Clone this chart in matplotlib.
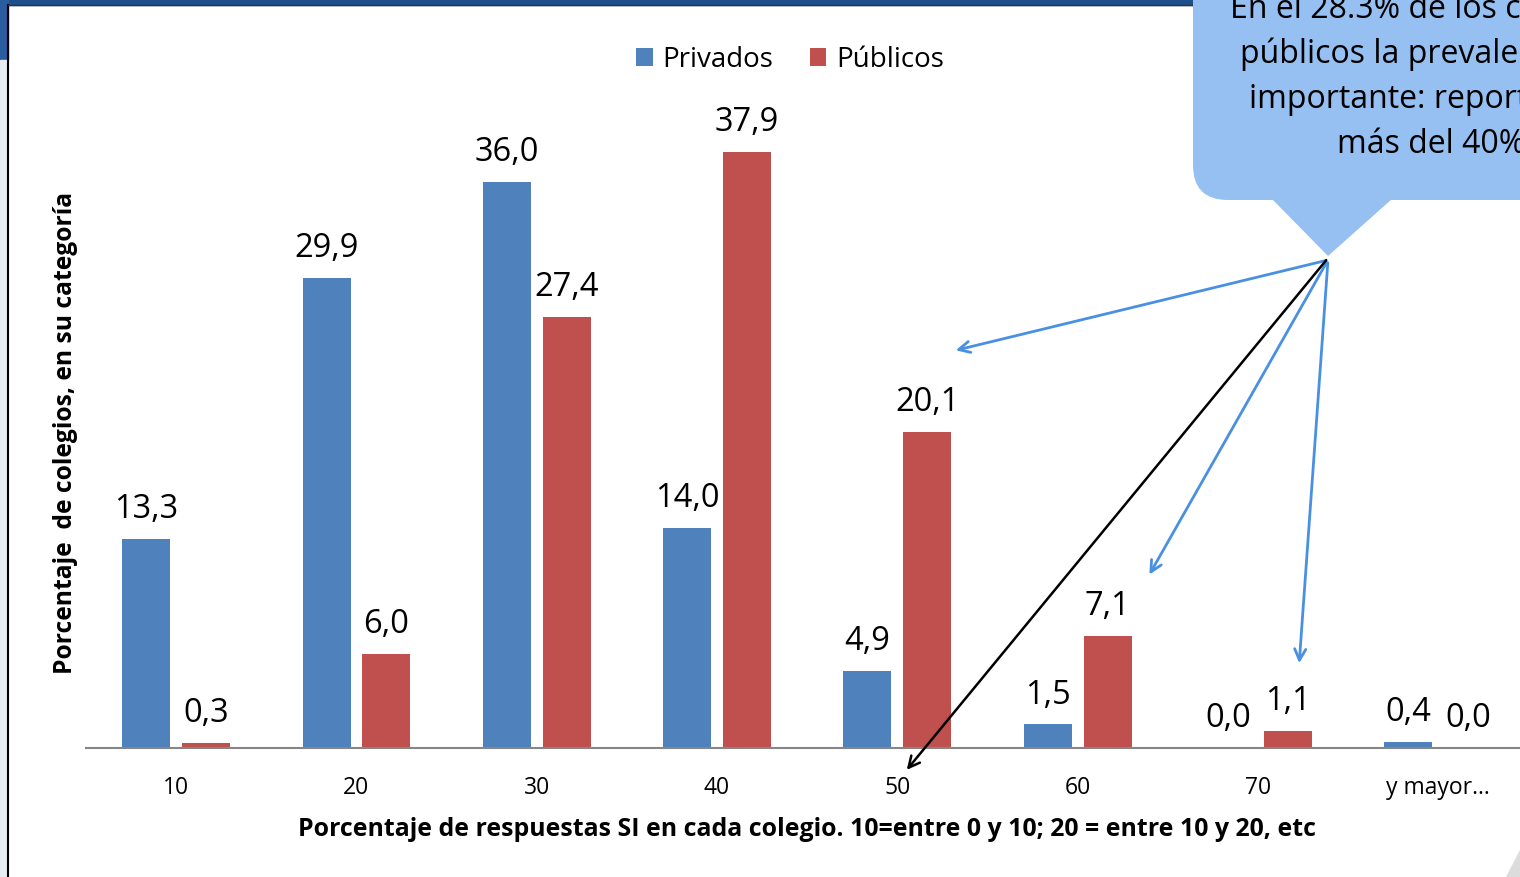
import matplotlib.pyplot as plt
from matplotlib.patches import FancyBboxPatch, Polygon, Rectangle
import numpy as np

plt.rcParams['font.family'] = ['Open Sans', 'DejaVu Sans']

categorias = ['10', '20', '30', '40', '50', '60', '70', 'y mayor...']
privados = [13.3, 29.9, 36.0, 14.0, 4.9, 1.5, 0.0, 0.4]
publicos = [0.3, 6.0, 27.4, 37.9, 20.1, 7.1, 1.1, 0.0]
nota = ['En el 28.3% de los colegios', 'públicos la prevalencia es',
        'importante: reportan', 'más del 40%']

W, H = 1520, 877
fig = plt.figure(figsize=(W / 100, H / 100), dpi=100)

# fondo de la diapositiva
bg = fig.add_axes([0, 0, 1, 1])
bg.set_xlim(0, W)
bg.set_ylim(H, 0)
bg.axis('off')
bg.add_patch(Rectangle((0, 0), W, 5, color='#1F4E8C', zorder=1))
bg.add_patch(Rectangle((0, 0), 8, 60, color='#2A5CA0', zorder=1))
bg.add_patch(Rectangle((0, 60), 8, H - 60, color='#E8EDF3', zorder=1))
bg.plot([8, 8], [5, H], color='black', lw=1.5, zorder=2)
bg.plot([8, W], [5, 5], color='#333333', lw=1, zorder=2)
bg.add_patch(Polygon([(W, 850), (W, H), (1506, H)], color='#DCDCDC', zorder=1))

# grafico
ax = fig.add_axes([86 / W, (H - 748) / H, (W - 86) / W, (748 - 10) / H])
ax.patch.set_alpha(0)
x = np.arange(len(categorias))
w = 0.266
d = 0.166
b1 = ax.bar(x - d, privados, w, color='#4F81BD', label='Privados')
b2 = ax.bar(x + d, publicos, w, color='#C0504D', label='Públicos')
for bars, vals in ((b1, privados), (b2, publicos)):
    for r, v in zip(bars, vals):
        ax.annotate(f'{v:.1f}'.replace('.', ','), (r.get_x() + r.get_width() / 2, v),
                    xytext=(0, 15), textcoords='offset points', ha='center',
                    va='baseline', fontsize=23.5)

ax.set_xlim(-0.5, -0.5 + (W - 86) / 180.3)
ax.set_ylim(0, 738 / 15.73)
ax.set_xticks(x)
ax.set_xticklabels(categorias, fontsize=16.5)
ax.tick_params(axis='x', length=0, pad=20)
ax.set_yticks([])
for s in ('top', 'right', 'left'):
    ax.spines[s].set_visible(False)
ax.spines['bottom'].set_color('#868686')
ax.spines['bottom'].set_linewidth(1.5)

fig.text(807 / W, 1 - 829 / H,
         'Porcentaje de respuestas SI en cada colegio. 10=entre 0 y 10; 20 = entre 10 y 20, etc',
         ha='center', va='center', fontsize=17.9, fontweight='bold')
fig.text(66 / W, 1 - 433 / H, 'Porcentaje  de colegios, en su categoría',
         ha='center', va='center', rotation=90, fontsize=17.7, fontweight='bold')

ax.legend(loc='center', bbox_to_anchor=(790 / W, 1 - 60 / H), bbox_transform=fig.transFigure,
          ncol=2, frameon=False, fontsize=20, handlelength=0.6, handleheight=0.6,
          handletextpad=0.35, columnspacing=1.3)

# globo
ov = fig.add_axes([0, 0, 1, 1])
ov.set_xlim(0, W)
ov.set_ylim(H, 0)
ov.axis('off')
ov.patch.set_alpha(0)
ov.add_patch(FancyBboxPatch((1193, -60), 450, 260, boxstyle='round,pad=0,rounding_size=35',
                            color='#95C0F1', lw=0, zorder=3))
ov.add_patch(Polygon([(1272, 199), (1392, 199), (1328, 256)], color='#95C0F1', lw=0, zorder=3))
for i, (t, x0) in enumerate(zip(nota, (1230, 1240, 1249, 1337))):
    ov.text(x0, 18 + 45 * i, t, ha='left', va='baseline', fontsize=23, zorder=4)

for tx, ty in ((953, 351), (1148, 577), (1299, 666)):
    ov.annotate('', xy=(tx, ty), xytext=(1328, 260),
                arrowprops=dict(arrowstyle='->,head_length=0.8,head_width=0.4',
                                color='#4A90E2', lw=2), zorder=5)
ov.annotate('', xy=(905, 772), xytext=(1328, 258),
            arrowprops=dict(arrowstyle='->,head_length=0.8,head_width=0.4',
                            color='black', lw=1.8), zorder=5)

fig.savefig('out.png', dpi=100)
